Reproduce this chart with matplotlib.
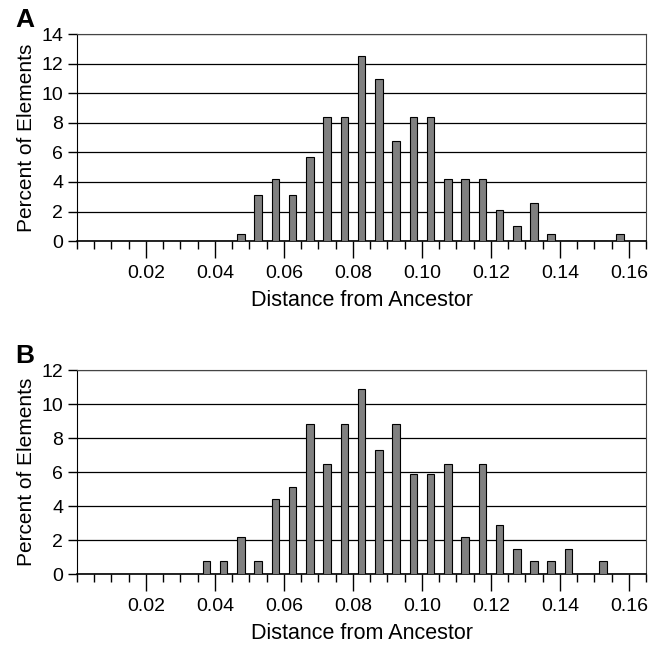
import numpy as np
import matplotlib.pyplot as plt
from matplotlib.ticker import MultipleLocator

plt.rcParams['font.family'] = ['Liberation Sans', 'DejaVu Sans']

# bin centres (0.005 wide bins)
bins_a = [0.0475, 0.0525, 0.0575, 0.0625, 0.0675, 0.0725, 0.0775, 0.0825,
          0.0875, 0.0925, 0.0975, 0.1025, 0.1075, 0.1125, 0.1175, 0.1225,
          0.1275, 0.1325, 0.1375, 0.1425, 0.1475, 0.1525, 0.1575]
pct_a = [0.5, 3.1, 4.2, 3.1, 5.7, 8.4, 8.4, 12.5,
         11.0, 6.8, 8.4, 8.4, 4.2, 4.2, 4.2, 2.1,
         1.0, 2.6, 0.5, 0, 0, 0, 0.5]

bins_b = [0.0375, 0.0425, 0.0475, 0.0525, 0.0575, 0.0625, 0.0675, 0.0725,
          0.0775, 0.0825, 0.0875, 0.0925, 0.0975, 0.1025, 0.1075, 0.1125,
          0.1175, 0.1225, 0.1275, 0.1325, 0.1375, 0.1425, 0.1475, 0.1525]
pct_b = [0.75, 0.75, 2.2, 0.75, 4.4, 5.1, 8.8, 6.5,
         8.8, 10.9, 7.3, 8.8, 5.9, 5.9, 6.5, 2.2,
         6.5, 2.9, 1.5, 0.75, 0.75, 1.5, 0, 0.75]

xticks = [0.02, 0.04, 0.06, 0.08, 0.10, 0.12, 0.14, 0.16]
xticklabels = ['0.02', '0.04', '0.06', '0.08', '0.10', '0.12', '0.14', '0.16']

fig = plt.figure(figsize=(6.58, 6.48), dpi=100)
ax_a = fig.add_axes([0.117, 0.628, 0.865, 0.319])
ax_b = fig.add_axes([0.117, 0.114, 0.865, 0.315])


def draw(ax, x, y, ymax, letter):
    ax.bar(x, y, width=0.0022, color='#808080', edgecolor='black', linewidth=0.8, zorder=3)
    ax.set_xlim(0, 0.165)
    ax.set_ylim(0, ymax)
    ax.yaxis.set_major_locator(MultipleLocator(2))
    ax.yaxis.grid(True, color='black', linewidth=0.9, zorder=0)
    ax.set_xticks(xticks)
    ax.set_xticklabels(xticklabels)
    ax.xaxis.set_minor_locator(MultipleLocator(0.005))
    ax.tick_params(axis='x', which='major', length=12, width=1, labelsize=14, pad=5)
    ax.tick_params(axis='x', which='minor', length=5.5, width=1)
    ax.tick_params(axis='y', length=6.5, width=1, labelsize=14, pad=3.5)
    for s in ['top', 'right']:
        ax.spines[s].set_color('#444444')
    ax.spines['bottom'].set_linewidth(1.2)
    ax.set_xlabel('Distance from Ancestor', fontsize=15.5, labelpad=6)
    ax.set_ylabel('Percent of Elements', fontsize=15, labelpad=4)
    ax.text(-0.108, 1.01, letter, transform=ax.transAxes, fontsize=19,
            fontweight='bold', va='bottom', ha='left')


draw(ax_a, bins_a, pct_a, 14, 'A')
draw(ax_b, bins_b, pct_b, 12, 'B')

fig.savefig('out.png', dpi=100)
